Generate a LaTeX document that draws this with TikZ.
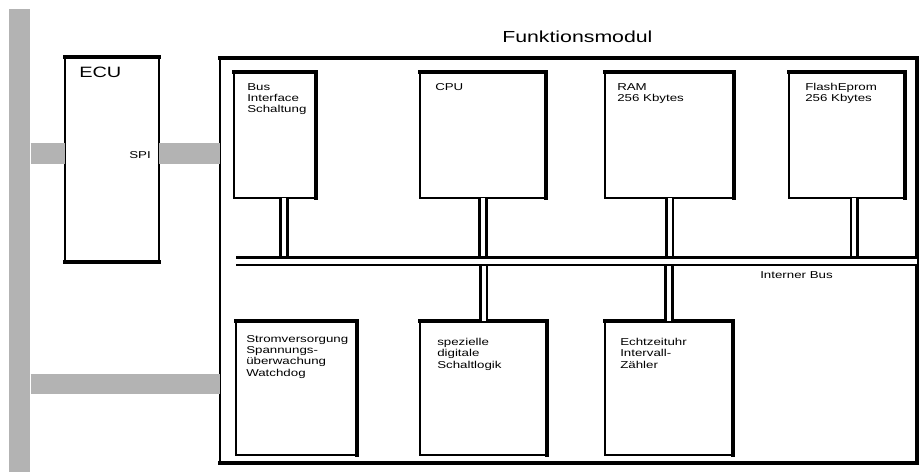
\documentclass[tikz,border=0pt]{standalone}
\usepackage{fontspec}
\setmainfont[FakeStretch=1.33]{Liberation Sans}
\definecolor{busgray}{RGB}{179,179,179}
\tikzset{
  box/.style 2 args={draw=black, line width=1.1pt, fill=white, anchor=north west,
    inner sep=0pt, outer sep=0pt, minimum width=#1*0.75pt, minimum height=#2*0.75pt},
  heavy/.style={draw=black, line width=2.6pt, line join=miter, line cap=rect},
  label/.style={anchor=north west, inner sep=0pt, align=left,
    font=\fontsize{7.5pt}{8.5pt}\selectfont},
  graybar/.style={fill=busgray, draw=none, anchor=north west, inner sep=0pt,
    minimum width=21*0.75pt, minimum height=463*0.75pt},
  graylink/.style={draw=busgray, line width=15.5pt},
  dbl/.style={draw=black, double=white, line width=1.9pt, double distance=3pt},
  busline/.style={draw=black, double=white, line width=1.9pt, double distance=3.75pt},
}
\begin{document}
\begin{tikzpicture}[x=0.75pt,y=-0.75pt]
\useasboundingbox[fill=white] (0,0) rectangle (921,472);
% main gray bus
\node[graybar] (mainbus) at (9,9) {};
% ECU
\node[box={94}{205}] (ecu) at (65,57) {};
\draw[heavy] (ecu.north west) -- (ecu.north east);
\draw[heavy] (ecu.south west) -- (ecu.south east);
\node[anchor=north west, inner sep=0pt, font=\fontsize{11.25pt}{13pt}\selectfont] (ecut) at (79,67) {ECU};
\node[anchor=base east, inner sep=0pt, font=\fontsize{7.5pt}{8.5pt}\selectfont] (spi) at (151,158) {SPI};
% Funktionsmodul frame
\node[box={697}{405}] (fm) at (220,58) {};
\draw[heavy] (fm.north west) -- (fm.north east) -- (fm.south east) -- (fm.south west);
\node[anchor=base west, inner sep=0pt, font=\fontsize{12pt}{14pt}\selectfont] (fmt) at (502,42) {Funktionsmodul};
% gray links
\draw[graylink] (mainbus.east |- 0,153.5) -- (ecu.west |- 0,153.5);
\draw[graylink] (ecu.east |- 0,153.5) -- (fm.west |- 0,153.5);
\draw[graylink] (mainbus.east |- 0,384) -- (fm.west |- 0,384);
% top row boxes
\node[box={82}{126}] (bif) at (234,72) {};
\node[box={126}{126}] (cpu) at (420,72) {};
\node[box={129}{126}] (ram) at (605,72) {};
\node[box={116}{126}] (flash) at (789,72) {};
% bottom row boxes
\node[box={121}{134}] (ps) at (236,321) {};
\node[box={127}{134}] (spec) at (420,321) {};
\node[box={128}{134}] (rtc) at (605,321) {};
\foreach \b in {bif,cpu,ram,flash,ps,spec,rtc}{
  \draw[heavy] (\b.north west) -- (\b.north east) -- (\b.south east);
}
% internal bus
\coordinate (busL) at (236,261);
\coordinate (busR) at (917,261);
% vertical connectors
\draw[dbl] ([xshift=6.75pt]bif.south) -- ([xshift=6.75pt]bif.south |- busL);
\draw[dbl] (cpu.south) -- (cpu.south |- busL);
\draw[dbl] (ram.south) -- (ram.south |- busL);
\draw[dbl] ([xshift=5.6pt]flash.south) -- ([xshift=5.6pt]flash.south |- busL);
\draw[dbl] (spec.north) -- (spec.north |- busL);
\draw[dbl] (rtc.north) -- (rtc.north |- busL);
\draw[busline] (busL) -- (busR);
\node[anchor=base west, inner sep=0pt, font=\fontsize{7.5pt}{8.5pt}\selectfont] (bust) at (760,278) {Interner Bus};
% box texts
\node[label] at (247,83) {Bus\\Interface\\Schaltung};
\node[label] at (435,83) {CPU};
\node[label] at (617,83) {RAM\\256 Kbytes};
\node[label] at (805,83) {FlashEprom\\256 Kbytes};
\node[label] at (246,335) {Stromversorgung\\Spannungs-\\überwachung\\Watchdog};
\node[label] at (437,338) {spezielle\\digitale\\Schaltlogik};
\node[label] at (620,338) {Echtzeituhr\\Intervall-\\Zähler};
\end{tikzpicture}
\end{document}
